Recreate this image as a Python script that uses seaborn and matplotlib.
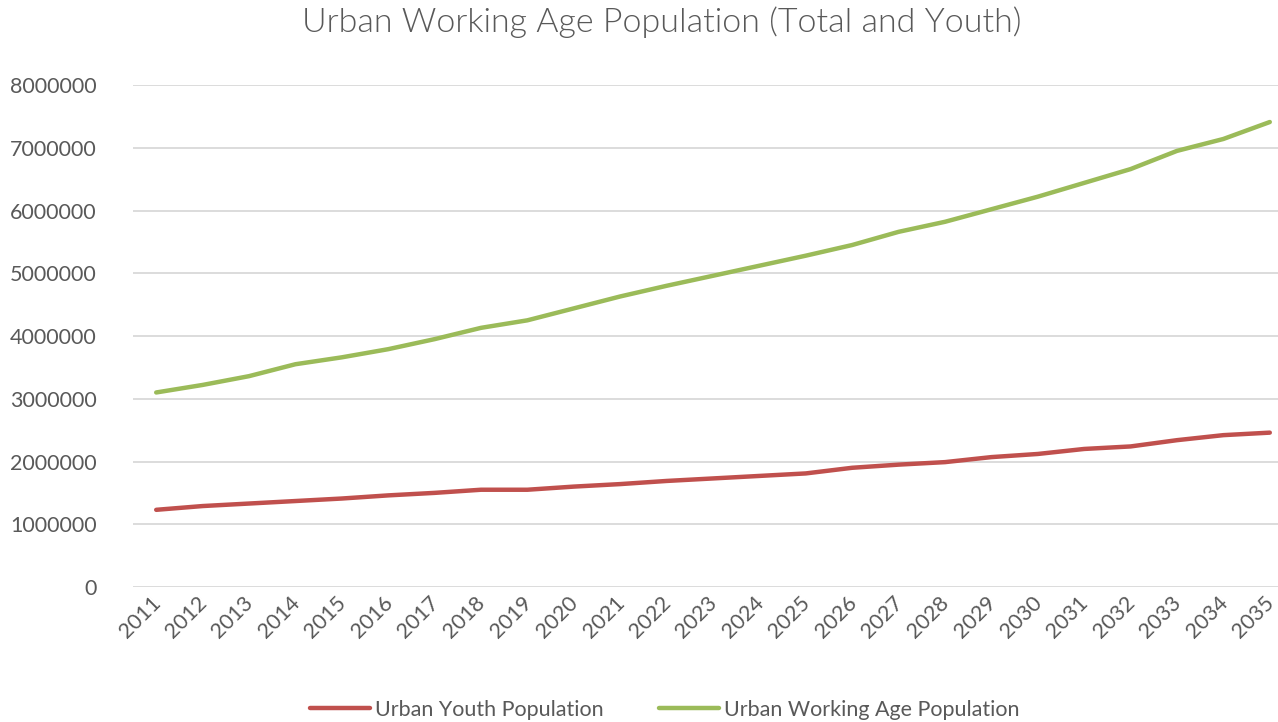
import pandas as pd
import matplotlib
matplotlib.use("Agg")
import matplotlib.pyplot as plt
import matplotlib.transforms as mtransforms
import seaborn as sns

years = list(range(2011, 2036))

youth_pop = [1230000, 1290000, 1330000, 1370000, 1410000, 1460000, 1500000, 1550000,
             1550000, 1600000, 1640000, 1690000, 1730000, 1770000, 1810000, 1900000,
             1950000, 1990000, 2070000, 2120000, 2200000, 2240000, 2340000, 2420000, 2460000]

working_pop = [3100000, 3220000, 3360000, 3550000, 3660000, 3790000, 3950000, 4130000,
               4250000, 4440000, 4630000, 4800000, 4960000, 5120000, 5280000, 5450000,
               5660000, 5820000, 6020000, 6220000, 6440000, 6660000, 6950000, 7140000, 7410000]

series_names = ["Urban Youth Population", "Urban Working Age Population"]
palette = ["#C0504D", "#9BBB59"]

df = pd.DataFrame({
    "year": [str(y) for y in years] * 2,
    "value": youth_pop + working_pop,
    "series": [series_names[0]] * len(years) + [series_names[1]] * len(years),
})

sns.set_style("white")
plt.rcParams['font.family'] = ['Lato', 'DejaVu Sans']
txt = "#595959"

fig = plt.figure(figsize=(12.78, 7.22), dpi=100)
ax = fig.add_axes([133 / 1278, 1 - 587 / 722, (1293 - 133) / 1278, (587 - 85) / 722])

sns.lineplot(data=df, x="year", y="value", hue="series", palette=palette,
             linewidth=3.2, ax=ax, sort=False)

ax.set_xlim(-0.5, len(years) - 0.5)
ax.set_ylim(0, 8000000)
ax.set_yticks(range(0, 8000001, 1000000))
ax.set_yticklabels([str(v) for v in range(0, 8000001, 1000000)])
ax.yaxis.grid(True, color="#D9D9D9", linewidth=1.3)
ax.set_axisbelow(True)
for s in ax.spines.values():
    s.set_visible(False)
ax.tick_params(axis="y", length=0, pad=26, labelsize=15.5, labelcolor=txt)
ax.tick_params(axis="x", length=0, pad=4, labelsize=15.5, labelcolor=txt)
shift = mtransforms.ScaledTranslation(-6 / 100, 0, fig.dpi_scale_trans)
for lab in ax.get_xticklabels():
    lab.set_rotation(45)
    lab.set_ha("right")
    lab.set_rotation_mode("anchor")
    lab.set_transform(lab.get_transform() + shift)
ax.set_xlabel("")
ax.set_ylabel("")

fig.text(0.518, 1 - 22 / 722, "Urban Working Age Population (Total and Youth)",
         ha="center", va="center", fontsize=24.5, color=txt, fontweight=300)

ax.legend(loc="center", bbox_to_anchor=(0.52, 1 - 710 / 722), bbox_transform=fig.transFigure,
          ncol=2, frameon=False, fontsize=15.5, labelcolor=txt, handlelength=2.8,
          handletextpad=0.2, columnspacing=2.6)

fig.savefig("out.png", dpi=100)
